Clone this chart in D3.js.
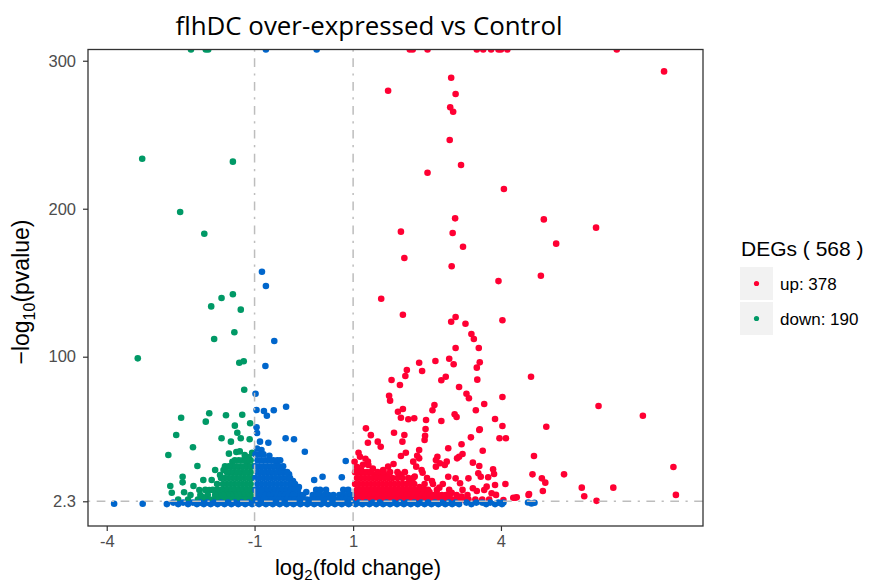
<!DOCTYPE html>
<html>
<head>
<meta charset="utf-8" />
<title>flhDC over-expressed vs Control</title>
<style>
body { margin: 0; background: #fff; }
text { font-family: "Liberation Sans", Arial, sans-serif; }
</style>
</head>
<body>
<div id="chart"></div>
<script src="https://cdnjs.cloudflare.com/ajax/libs/d3/7.8.5/d3.min.js"></script>
<script>
// axis ticks
var xTicks = [-4, -1, 1, 4]
var yTicks = [2.3, 100, 200, 300]
var fcCut = [-1, 1]
var pCut = 2.3

// legend
var legendTitle = "DEGs ( 568 )"
var legendLabels = ["up: 378", "down: 190"]

// points above the plot limit are pinned at the top edge
var yCap = 307.6

// up-regulated (red): scattered points [log2FC, -log10 p]
var upPoints = [
  [2.15,yCap],[2.21,yCap],[2.51,yCap],[3.51,yCap],[3.64,yCap],[3.80,yCap],[3.95,yCap],[4.00,yCap],[4.13,yCap],[6.35,yCap],
  [7.31,292.8],[2.99,288.5],[1.71,279.7],[3.08,277.5],[2.97,268.5],[3.03,265.5],[2.96,246.4],[3.19,229.5],[2.51,224.3],
  [4.06,213.3],[3.07,193.5],[4.87,192.8],[5.93,187.2],[1.97,184.5],[3.02,183.6],[3.23,174.3],[5.12,176.4],[2.04,166.7],
  [3.0,161.1],[3.95,151.1],[4.81,154.7],[1.57,139.2],[2.01,128.4],[3.08,126.8],[2.99,123.6],[3.28,122.3],[4.03,124.6],
  [3.40,115.3],[3.45,112],[3.08,105.9],[3.55,105.9],[2.95,98.6],[2.67,97.1],[2.34,95.9],[3.04,94.9],[3.57,96.2],
  [3.51,92.6],[2.09,91],[2.40,90.3],[2.06,87],[2.88,86.5],[2.79,84.1],[3.52,84.5],[4.61,86.5],[1.78,84.3],[1.95,80.9],
  [3.15,79.5],[3.30,75],[3.35,71.9],[1.73,73.6],[1.75,70.3],[4.03,72.8],[3.66,68],[5.98,66.7],[2.65,67.4],[2.61,63.8],
  [2.01,64.7],[1.91,62.8],[3.49,63.8],[1.97,58.8],[2.12,57.7],[2.24,58.4],[2.48,57.2],[2.79,56.6],[3.06,61.1],
  [3.10,59.3],[3.88,57.9],[4.03,53.2],[4.92,52.7],[6.88,60.1],[1.26,51.6],[2.47,51.1],[3.57,50.9],
  [4.67,32.9],[7.50,25.5],[5.28,20.5],[4.64,20.5],[4.83,17.8],[4.90,14.9],[4.85,9.3],[5.64,11.5],[6.28,11.5],
  [5.69,5.7],[7.55,6.6],[5.94,2.6],[4.09,14],[4.56,6.6],[4.29,4.7],[4.05,3.2],
  [3.97,44.9],[4.10,44.9],[3.63,36.5],[3.39,45.5],[3.56,50.5],[3.2,40.8],
  [1.36,47],[1.83,48.6],[2.04,47.1],[2.46,46.6],[2.45,43.7],[1.50,42.6],[1.56,39.2],[1.30,41.9],[2.0,42.6],
  [2.34,37],[2.30,33.1],[2.07,35.1],[1.11,35.1],[1.14,32.4],[2.93,38.1],[1.97,32.9],[2.71,32.4],[2.68,30.2],
  [2.76,28],[3.15,32.4],[3.22,34.3],[3.11,31.3],[3.43,28.4],[3.56,26.1],[2.34,31.3],[2.22,29.1],[2.28,25.7],
  [1.82,27.5],[1.71,25.7],[1.61,23.4],[1.30,29.1],[1.31,26.8],[2.90,29.1],[2.86,26.8],[2.39,23.4],[2.41,21.6],
  [2.68,25.7],[3.54,21.2],[3.59,18.9],[3.34,17.8],[3.84,23.9],[3.86,20.7],[3.08,17.8],[3.17,14.5],[2.93,18.9],
  [3.74,18.5],[3.71,12.2],[3.88,13.3],[3.43,11.1],[3.51,9.3],[3.66,9.9],[3.81,7.7],[3.90,6.6],[4.32,5],
  [4.25,4.7],[4.57,7.2],
  [1.08,25.5],[1.2,27],[1.4,24.5],[1.55,21],[1.25,31],[1.03,29],[1.65,19.5],[1.95,20.5],[2.15,16.5],
  [2.35,12],[2.55,8.5],[2.75,11.5],[3.0,8],[3.2,5.5],[2.6,16],[2.25,19],[1.16,23.5],[1.45,20.5]
]

// up-regulated dense cloud, one row per -log10 p level
var upRows = [
  {y: 22, x: [1.04,1.12,1.2,1.28,1.36,1.5,1.62,1.75,1.9,2.05]},
  {y: 18, x: [1.08,1.16,1.24,1.32,1.4,1.48,1.56,1.64,1.72,1.8,1.9,2.0,2.12,2.22,2.5]},
  {y: 14, x: [1.04,1.12,1.2,1.28,1.36,1.44,1.52,1.6,1.68,1.76,1.84,1.92,2.0,2.08,2.16,2.24,2.45,2.62,2.82]},
  {y: 10, x: [1.08,1.16,1.24,1.32,1.4,1.48,1.56,1.64,1.72,1.8,1.88,1.96,2.04,2.12,2.2,2.28,2.36,2.44,2.52,2.7,2.95,3.22]},
  {y: 6.5, x: [1.04,1.12,1.2,1.28,1.36,1.44,1.52,1.6,1.68,1.76,1.84,1.92,2.0,2.08,2.16,2.24,2.32,2.4,2.48,2.56,2.64,2.72,2.8,2.88,2.96,3.1,3.32]},
  {y: 3.5, x: [1.08,1.16,1.24,1.32,1.4,1.48,1.56,1.64,1.72,1.8,1.88,1.96,2.04,2.12,2.2,2.28,2.36,2.44,2.52,2.6,2.68,2.76,2.84,2.92,3.0,3.08,3.16,3.24,3.34,3.48,3.62,3.76]}
]

// down-regulated (green)
var downPoints = [
  [-2.29,yCap],[-1.99,yCap],[-1.94,yCap],
  [-3.28,233.8],[-1.44,231.8],[-2.51,197.8],[-2.02,183.1],[-1.44,142.2],[-1.67,139.7],[-1.88,134],[-1.28,131.8],
  [-1.41,116.5],[-1.82,112],[-3.37,98.9],[-1.31,95.9],[-1.22,96.9],[-1.21,77.7],[-1.92,61.8],[-1.58,60.4],
  [-1.25,60.8],[-2.49,58.8],[-1.99,56.1],[-1.40,53.4],[-1.09,55],[-2.59,47.1],[-1.35,48.6],[-1.28,44.9],
  [-1.67,44.9],[-1.48,42.6],[-1.10,44.2],[-2.25,38.8],[-2.75,33.6],[-1.52,34.5],[-1.37,35.6],[-1.30,36],
  [-1.12,32],[-2.16,26.1],[-1.80,23.4],[-1.70,20],[-1.63,23.4],[-2.46,18.9],[-2.46,15.1],[-2.04,16.7],
  [-1.87,16.7],[-2.71,12.6],[-2.68,8.1],[-2.24,12.6],[-2.12,9.9],[-1.92,9.9],[-2.43,8.4],[-2.04,5],
  [-1.2,33.5],[-1.05,35],[-1.45,29],[-1.6,26],[-1.15,28]
]
var downRows = [
  {y: 30, x: [-1.08,-1.16,-1.24,-1.32,-1.4]},
  {y: 26, x: [-1.04,-1.12,-1.2,-1.28,-1.36,-1.44,-1.52]},
  {y: 22, x: [-1.08,-1.16,-1.24,-1.32,-1.4,-1.48,-1.56]},
  {y: 18, x: [-1.04,-1.12,-1.2,-1.28,-1.36,-1.44,-1.52,-1.6,-1.68]},
  {y: 14, x: [-1.08,-1.16,-1.24,-1.32,-1.4,-1.48,-1.56,-1.64,-1.76]},
  {y: 10, x: [-1.04,-1.12,-1.2,-1.28,-1.36,-1.44,-1.52,-1.6,-1.68,-1.76,-1.85,-2.0]},
  {y: 6.5, x: [-1.08,-1.16,-1.24,-1.32,-1.4,-1.48,-1.56,-1.64,-1.72,-1.8,-1.95,-2.1,-2.3]},
  {y: 3.5, x: [-1.04,-1.12,-1.2,-1.28,-1.36,-1.44,-1.52,-1.6,-1.68,-1.76,-1.84,-1.92,-2.0,-2.15,-2.35,-2.55]}
]

// not significant (blue)
var nsPoints = [
  [-0.77,yCap],[0.26,yCap],
  [-0.85,157.4],[-0.77,147.8],[-0.60,110.6],[-0.78,93.7],[-0.98,75],[-0.96,64],[-0.81,63.3],[-0.75,60.1],
  [-0.61,63.8],[-0.36,66.2],[-0.96,52.3],[-0.95,48.4],[-0.37,44.9],[-0.20,44.2],[-0.89,42.6],[-0.72,41.9],
  [0.02,35.8],[0.85,29.5],[0.21,16.7],[0.38,18.9],[0.77,18.5],
  [-3.85,0.6],[-3.27,0.6],[4.55,1.5],[4.62,0.8],[4.68,1.3],
  [-0.95,38],[-0.86,37],[-0.7,33],[-0.55,28],[-0.45,23],[-0.3,20.5],[-0.22,16],[-0.1,12],[0.05,8.5]
]
var nsRows = [
  {y: 34, x: [-0.98,-0.9,-0.82]},
  {y: 30, x: [-0.94,-0.86,-0.78,-0.7,-0.62,-0.54,-0.48]},
  {y: 26, x: [-0.98,-0.9,-0.82,-0.74,-0.66,-0.58,-0.5,-0.42]},
  {y: 22, x: [-0.94,-0.86,-0.78,-0.7,-0.62,-0.54,-0.46,-0.38,-0.34]},
  {y: 18, x: [-0.98,-0.9,-0.82,-0.74,-0.66,-0.58,-0.5,-0.42,-0.34,-0.28]},
  {y: 14, x: [-0.94,-0.86,-0.78,-0.7,-0.62,-0.54,-0.46,-0.38,-0.3,-0.24,-0.18]},
  {y: 10, x: [-0.98,-0.9,-0.82,-0.74,-0.66,-0.58,-0.5,-0.42,-0.34,-0.26,-0.18,-0.12,0.25,0.33,0.45,0.8,0.9]},
  {y: 6.5, x: [-0.94,-0.86,-0.78,-0.7,-0.62,-0.54,-0.46,-0.38,-0.3,-0.22,-0.14,-0.06,-0.02,0.18,0.26,0.34,0.42,0.5,0.6,0.72,0.8,0.88,0.96]},
  {y: 3.5, x: [-0.98,-0.9,-0.82,-0.74,-0.66,-0.58,-0.5,-0.42,-0.34,-0.26,-0.18,-0.1,-0.02,0.06,0.14,0.22,0.3,0.38,0.46,0.54,0.62,0.7,0.78,0.86,0.94]},
  {y: 1.4, x: [-2.65,-2.45,-2.25,-2.1,-1.96,-1.82,-1.68,-1.54,-1.4,-1.26,-1.12,-0.98,-0.84,-0.7,-0.56,-0.42,-0.28,-0.14,0,0.14,0.28,0.42,0.56,0.7,0.84,0.98,1.12,1.26,1.4,1.54,1.68,1.82,1.96,2.1,2.24,2.38,2.52,2.66,2.8,2.94,3.08,3.3,3.5,3.62,3.78,3.95,4.05]},
  {y: 0.4, x: [-2.78,-2.55,-2.35,-2.17,-2.03,-1.89,-1.75,-1.61,-1.47,-1.33,-1.19,-1.05,-0.91,-0.77,-0.63,-0.49,-0.35,-0.21,-0.07,0.07,0.21,0.35,0.49,0.63,0.77,0.91,1.05,1.19,1.33,1.47,1.61,1.75,1.89,2.03,2.17,2.31,2.45,2.59,2.73,2.87,3.01,3.15,3.4,3.7,3.88,4.02]}
]

var colors = {up: "#ff0033", down: "#009966", ns: "#0066cc"}

!(function(){
    "use strict"

    var width = 873, height = 585
    var panel = {left: 88, right: 703, top: 49.5, bottom: 526}

    var svg = d3.select("#chart").append("svg")
        .attr("width", width).attr("height", height)

    var x = d3.scaleLinear().domain([-4.38, 8.1]).range([panel.left, panel.right])
    var y = d3.scaleLinear().domain([-14.4, yCap]).range([panel.bottom, panel.top])

    function collect(list, rows, group) {
        var out = list.map(function(d) { return {x: d[0], y: d[1], g: group} })
        rows.forEach(function(r) {
            r.x.forEach(function(v) { out.push({x: v, y: r.y, g: group}) })
        })
        return out
    }

    var points = collect(upPoints, upRows, "up")
        .concat(collect(downPoints, downRows, "down"))
        .concat(collect(nsPoints, nsRows, "ns"))

    svg.append("clipPath").attr("id", "clip")
        .append("rect")
        .attr("x", panel.left).attr("y", panel.top)
        .attr("width", panel.right - panel.left)
        .attr("height", panel.bottom - panel.top)

    var plot = svg.append("g").attr("clip-path", "url(#clip)")

    plot.selectAll("circle")
        .data(points)
        .enter().append("circle")
        .attr("cx", function(d) { return x(d.x) })
        .attr("cy", function(d) { return y(d.y) })
        .attr("r", 3.3)
        .attr("fill", function(d) { return colors[d.g] })

    // threshold lines
    var dash = "2.2,6.5,8.7,6.5"
    plot.selectAll(".vline")
        .data(fcCut)
        .enter().append("line")
        .attr("x1", function(d) { return x(d) }).attr("x2", function(d) { return x(d) })
        .attr("y1", panel.top).attr("y2", panel.bottom)
        .attr("stroke", "#bdbdbd").attr("stroke-width", 1.5)
        .attr("stroke-dasharray", dash)
    plot.append("line")
        .attr("x1", panel.left).attr("x2", panel.right)
        .attr("y1", y(pCut)).attr("y2", y(pCut))
        .attr("stroke", "#bdbdbd").attr("stroke-width", 1.5)
        .attr("stroke-dasharray", dash)

    // axes
    var xAxis = svg.append("g")
        .attr("transform", "translate(0," + panel.bottom + ")")
        .call(d3.axisBottom(x).tickValues(xTicks).tickSize(5).tickPadding(4)
            .tickFormat(function(d) { return String(d) }))
    var yAxis = svg.append("g")
        .attr("transform", "translate(" + panel.left + ",0)")
        .call(d3.axisLeft(y).tickValues(yTicks).tickSize(5).tickPadding(7)
            .tickFormat(function(d) { return String(d) }))

    ;[xAxis, yAxis].forEach(function(a) {
        a.select(".domain").remove()
        a.selectAll(".tick line").attr("stroke", "#333").attr("stroke-width", 1.2)
        a.selectAll(".tick text")
            .attr("fill", "#4d4d4d")
            .style("font-size", "16.5px")
            .style("font-family", "'Liberation Sans', Arial, sans-serif")
    })

    svg.append("rect")
        .attr("x", panel.left).attr("y", panel.top)
        .attr("width", panel.right - panel.left)
        .attr("height", panel.bottom - panel.top)
        .attr("fill", "none").attr("stroke", "#333").attr("stroke-width", 1.3)

    // title
    svg.append("text")
        .attr("x", 369).attr("y", 35)
        .attr("text-anchor", "middle")
        .attr("textLength", 387).attr("lengthAdjust", "spacingAndGlyphs")
        .style("font-family", "'Open Sans', sans-serif")
        .style("font-size", "26px")
        .text("flhDC over-expressed vs Control")

    // x title
    var xt = svg.append("text")
        .attr("x", 358).attr("y", 575)
        .attr("text-anchor", "middle")
        .style("font-size", "22px")
    xt.append("tspan").text("log")
    xt.append("tspan").attr("dy", 5).style("font-size", "15px").text("2")
    xt.append("tspan").attr("dy", -5).text("(fold change)")

    // y title
    var yt = svg.append("text")
        .attr("transform", "translate(29,292) rotate(-90)")
        .attr("text-anchor", "middle")
        .style("font-size", "23px")
    yt.append("tspan").text("\u2212log")
    yt.append("tspan").attr("dy", 6).style("font-size", "16px").text("10")
    yt.append("tspan").attr("dy", -6).text("(pvalue)")

    // legend
    var legend = svg.append("g")
    legend.append("text")
        .attr("x", 741).attr("y", 256)
        .style("font-size", "21px")
        .text(legendTitle)

    var keys = legend.selectAll(".key")
        .data([{g: "up", label: legendLabels[0]}, {g: "down", label: legendLabels[1]}])
        .enter().append("g")
        .attr("transform", function(d, i) { return "translate(740," + (267 + i * 35) + ")" })
    keys.append("rect")
        .attr("width", 33).attr("height", 33)
        .attr("fill", "#f2f2f2")
    keys.append("circle")
        .attr("cx", 16.5).attr("cy", 16.5).attr("r", 2.6)
        .attr("fill", function(d) { return colors[d.g] })
    keys.append("text")
        .attr("x", 40).attr("y", 23)
        .style("font-size", "17px")
        .text(function(d) { return d.label })
}());
</script>
</body>
</html>
